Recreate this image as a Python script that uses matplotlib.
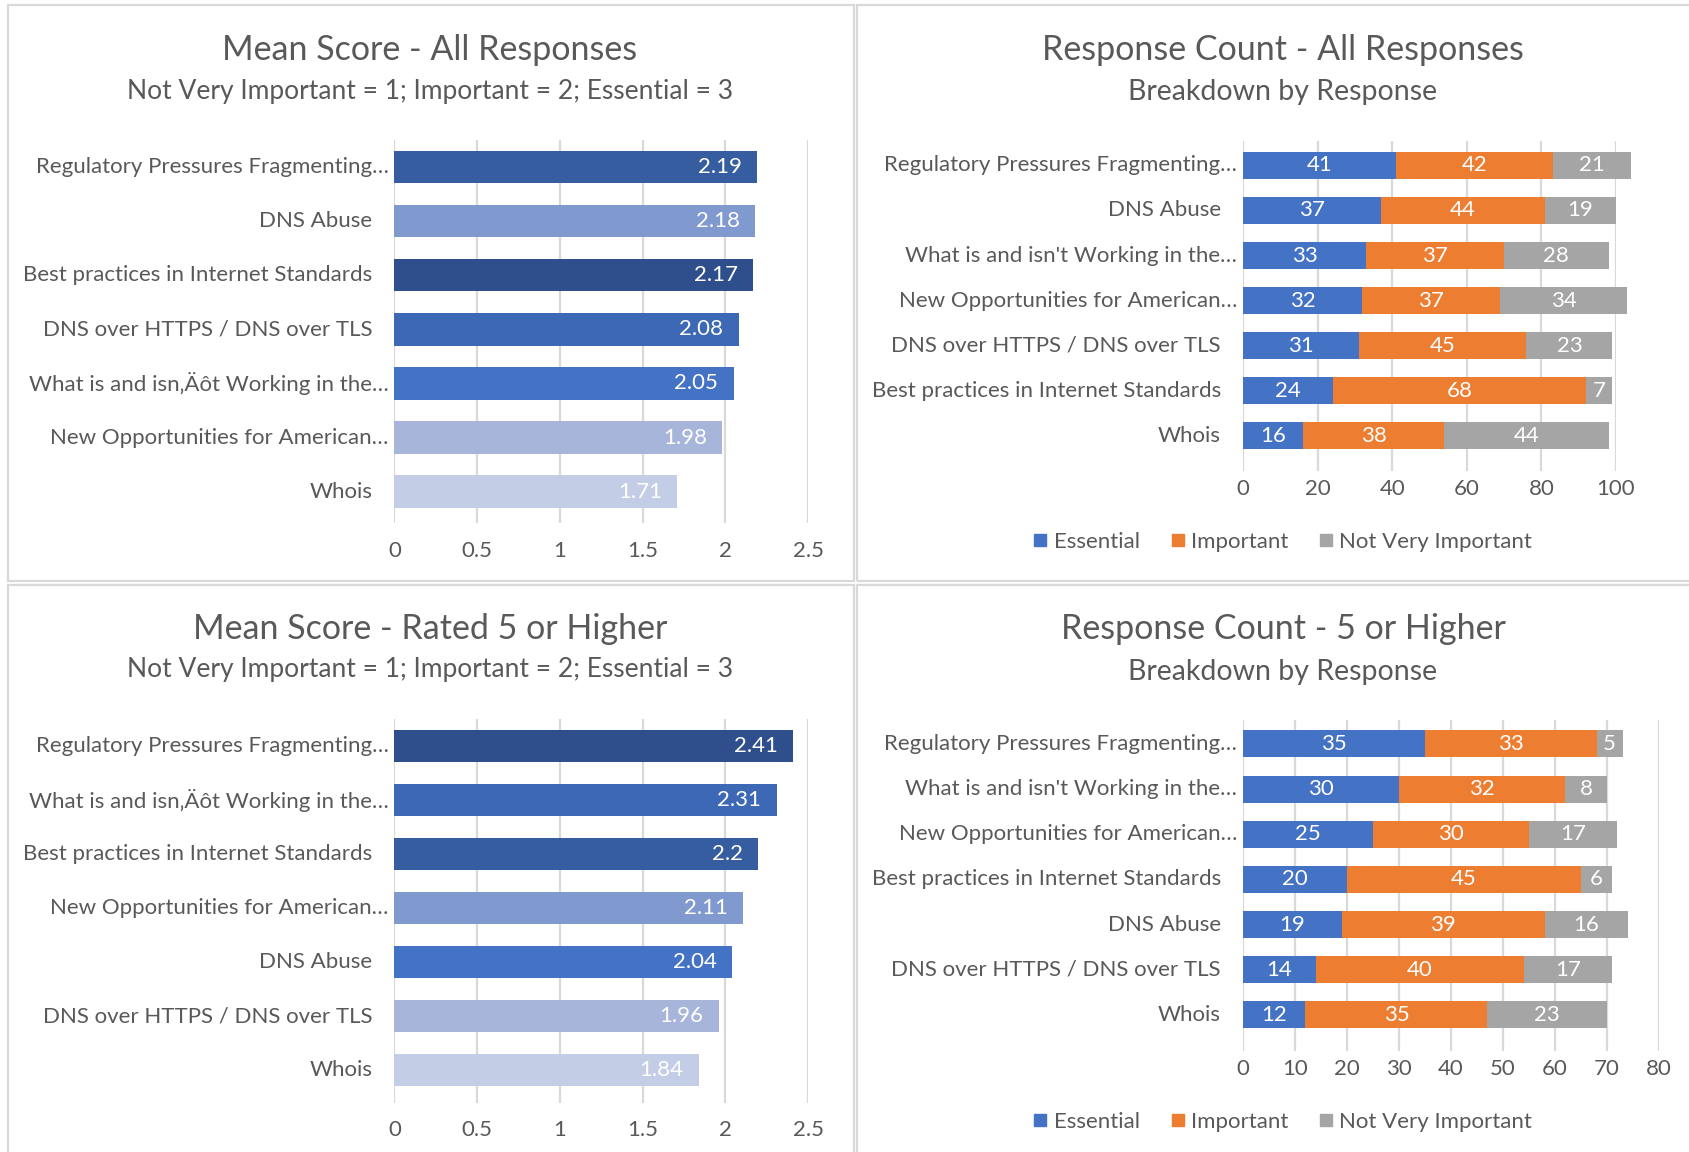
import matplotlib
matplotlib.use("Agg")
import matplotlib.pyplot as plt
from matplotlib.patches import Rectangle
from matplotlib.lines import Line2D
import matplotlib.transforms as mtransforms

plt.rcParams["font.family"] = ["Lato", "DejaVu Sans"]

W, H = 1690, 1152
TEXT = "#595959"
GRID = "#D9D9D9"
C_ESS, C_IMP, C_NVI = "#4472C4", "#ED7D31", "#A5A5A5"
FS = 16

# ---------------- data ----------------
WHAT = "What is and isn\u201a\u00c4\u00f4t Working in the\u2026"
WHAT2 = "What is and isn't Working in the\u2026"
REG = "Regulatory Pressures Fragmenting\u2026"
NEWO = "New Opportunities for American\u2026"
BEST = "Best practices in Internet Standards"
DOH = "DNS over HTTPS / DNS over TLS"
ABUSE = "DNS Abuse"
WHOIS = "Whois"

mean_all_cats = [REG, ABUSE, BEST, DOH, WHAT, NEWO, WHOIS]
mean_all_vals = [2.19, 2.18, 2.17, 2.08, 2.05, 1.98, 1.71]
mean_all_labels = ["2.19", "2.18", "2.17", "2.08", "2.05", "1.98", "1.71"]
mean_all_colors = ["#355D9F", "#8099CF", "#2F4F8C", "#3D68B5", "#4472C4", "#A7B5DA", "#C3CDE5"]

mean_hi_cats = [REG, WHAT, BEST, NEWO, ABUSE, DOH, WHOIS]
mean_hi_vals = [2.41, 2.31, 2.2, 2.11, 2.04, 1.96, 1.84]
mean_hi_labels = ["2.41", "2.31", "2.2", "2.11", "2.04", "1.96", "1.84"]
mean_hi_colors = ["#2F4F8C", "#3D68B5", "#355D9F", "#8099CF", "#4472C4", "#A7B5DA", "#C3CDE5"]

count_all_cats = [REG, ABUSE, WHAT2, NEWO, DOH, BEST, WHOIS]
count_all_ess = [41, 37, 33, 32, 31, 24, 16]
count_all_imp = [42, 44, 37, 37, 45, 68, 38]
count_all_nvi = [21, 19, 28, 34, 23, 7, 44]

count_hi_cats = [REG, WHAT2, NEWO, BEST, ABUSE, DOH, WHOIS]
count_hi_ess = [35, 30, 25, 20, 19, 14, 12]
count_hi_imp = [33, 32, 30, 45, 39, 40, 35]
count_hi_nvi = [5, 8, 17, 6, 16, 17, 23]

series_names = ["Essential", "Important", "Not Very Important"]
mean_ticks = [0, 0.5, 1, 1.5, 2, 2.5]
mean_ticklabels = ["0", "0.5", "1", "1.5", "2", "2.5"]
count_all_ticks = [0, 20, 40, 60, 80, 100]
count_hi_ticks = [0, 10, 20, 30, 40, 50, 60, 70, 80]

SUB_MEAN = "Not Very Important = 1; Important = 2; Essential = 3"
SUB_COUNT = "Breakdown by Response"

# ---------------- figure ----------------
fig = plt.figure(figsize=(W / 100, H / 100), dpi=100)
fig.patch.set_facecolor("white")


def px_axes(l, t, r, b):
    return fig.add_axes([l / W, 1 - b / H, (r - l) / W, (b - t) / H])


def panel(l, t, r, b):
    fig.add_artist(Rectangle((l / W, 1 - b / H), (r - l) / W, (b - t) / H,
                             transform=fig.transFigure, fill=False,
                             edgecolor=GRID, linewidth=1.6, zorder=0))


def fig_text(x, y, s, size):
    fig.text(x / W, 1 - y / H, s, ha="center", va="center", fontsize=size, color=TEXT)


def style_axes(ax, xmax, ticks, ticklabels, pad, ylim):
    ax.set_xlim(0, xmax)
    ax.set_ylim(*ylim)
    for sp in ax.spines.values():
        sp.set_visible(False)
    ax.set_xticks(ticks)
    ax.set_xticklabels(ticklabels)
    ax.tick_params(axis="x", length=0, pad=pad, labelsize=FS, labelcolor=TEXT)
    ax.set_yticks([])
    for t in ticks:
        ax.axvline(t, color=GRID, linewidth=1.6, zorder=0)
    ax.set_facecolor("none")


def cat_labels(ax, cats):
    for i, c in enumerate(cats):
        gap = 6 if c.endswith("\u2026") else 22
        tr = mtransforms.offset_copy(ax.get_yaxis_transform(), fig=fig, x=-gap * 0.72, units="points")
        ax.text(0, i, c, transform=tr, ha="right", va="center", fontsize=FS, color=TEXT)


def mean_chart(ax, cats, vals, labels, colors, pad, ylim):
    ax.barh(range(len(cats)), vals, height=0.6, color=colors, zorder=2)
    for i, (v, lab) in enumerate(zip(vals, labels)):
        tr = mtransforms.offset_copy(ax.transData, fig=fig, x=-11, units="points")
        ax.text(v, i, lab, transform=tr, ha="right", va="center", fontsize=FS, color="white", zorder=3)
    style_axes(ax, 2.5, mean_ticks, mean_ticklabels, pad, ylim)
    cat_labels(ax, cats)


def count_chart(ax, cats, ess, imp, nvi, xmax, ticks, pad, ylim):
    y = range(len(cats))
    left = [0] * len(cats)
    handles = []
    for vals, col, name in zip([ess, imp, nvi], [C_ESS, C_IMP, C_NVI], series_names):
        ax.barh(y, vals, left=left, height=0.6, color=col, zorder=2, clip_on=False)
        for i, v in enumerate(vals):
            ax.text(left[i] + v / 2, i, str(v), ha="center", va="center", fontsize=FS,
                    color="white", zorder=3, clip_on=False)
        left = [a + b for a, b in zip(left, vals)]
        handles.append(Line2D([], [], marker="s", linestyle="none", markersize=9,
                              markerfacecolor=col, markeredgecolor=col, label=name))
    style_axes(ax, xmax, ticks, [str(t) for t in ticks], pad, ylim)
    cat_labels(ax, cats)
    return handles


def legend_at(handles, y):
    fig.legend(handles=handles, loc="center", bbox_to_anchor=(1283 / W, 1 - y / H), ncol=3,
               frameon=False, fontsize=FS, labelcolor=TEXT, handlelength=0.6,
               handletextpad=0.3, columnspacing=1.4)


# panel frames
panel(8, 5, 854, 581)
panel(857, 5, 1700, 581)
panel(8, 585, 854, 1160)
panel(857, 585, 1700, 1160)

# top-left: mean score, all responses
ax1 = px_axes(394.5, 140, 808, 523)
mean_chart(ax1, mean_all_cats, mean_all_vals, mean_all_labels, mean_all_colors, pad=13,
           ylim=(6.58, -0.5))
fig_text(430, 50, "Mean Score - All Responses", 24.5)
fig_text(430, 91, SUB_MEAN, 19)

# top-right: response count, all responses
ax2 = px_axes(1243, 141, 1616, 471)
h = count_chart(ax2, count_all_cats, count_all_ess, count_all_imp, count_all_nvi, 100,
                count_all_ticks, pad=6, ylim=(6.78, -0.54))
fig_text(1283, 50, "Response Count - All Responses", 24.5)
fig_text(1283, 92, SUB_COUNT, 20.5)
legend_at(h, 542)

# bottom-left: mean score, rated 5 or higher
ax3 = px_axes(394.5, 719, 808, 1103)
mean_chart(ax3, mean_hi_cats, mean_hi_vals, mean_hi_labels, mean_hi_colors, pad=12,
           ylim=(6.61, -0.5))
fig_text(430, 629, "Mean Score - Rated 5 or Higher", 24.5)
fig_text(430, 670, SUB_MEAN, 19)

# bottom-right: response count, 5 or higher
ax4 = px_axes(1243, 720, 1659, 1051)
h = count_chart(ax4, count_hi_cats, count_hi_ess, count_hi_imp, count_hi_nvi, 80,
                count_hi_ticks, pad=5.5, ylim=(6.8, -0.53))
fig_text(1283, 629, "Response Count - 5 or Higher", 24.5)
fig_text(1283, 672, SUB_COUNT, 20.5)
legend_at(h, 1122)

fig.savefig("out.png", dpi=100, facecolor="white")
